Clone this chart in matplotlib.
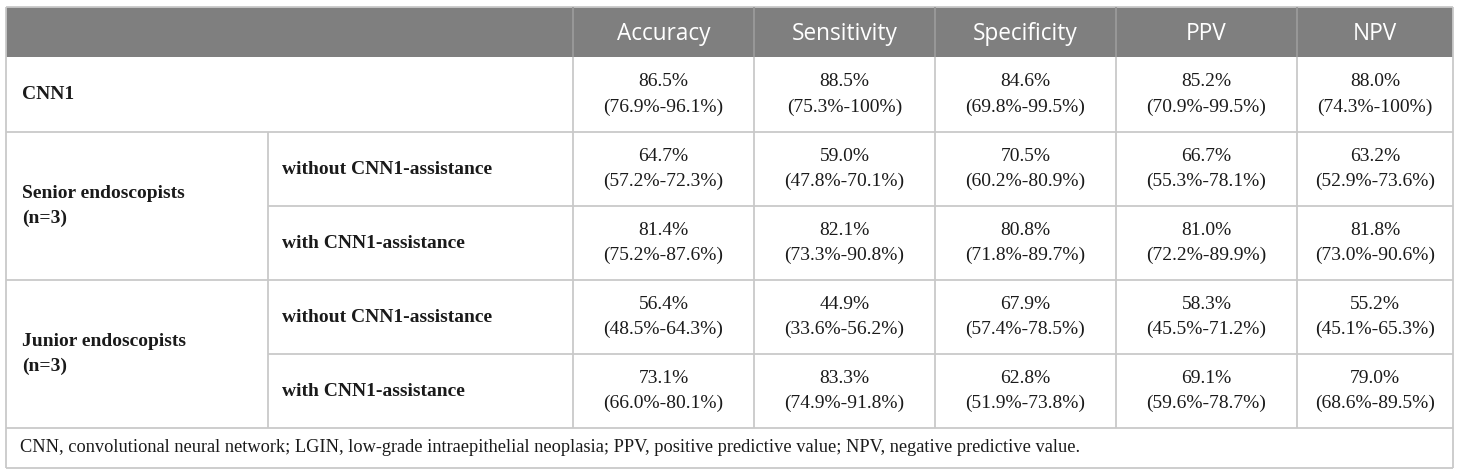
import matplotlib

matplotlib.use("Agg")
import matplotlib.pyplot as plt
from matplotlib.patches import Rectangle

# table content
metrics = ["Accuracy", "Sensitivity", "Specificity", "PPV", "NPV"]
groups = ["CNN1", "Senior endoscopists\n(n=3)", "Junior endoscopists\n(n=3)"]
conditions = ["without CNN1-assistance", "with CNN1-assistance"]

cnn1_values = ["86.5%\n(76.9%-96.1%)", "88.5%\n(75.3%-100%)", "84.6%\n(69.8%-99.5%)",
               "85.2%\n(70.9%-99.5%)", "88.0%\n(74.3%-100%)"]
senior_without = ["64.7%\n(57.2%-72.3%)", "59.0%\n(47.8%-70.1%)", "70.5%\n(60.2%-80.9%)",
                  "66.7%\n(55.3%-78.1%)", "63.2%\n(52.9%-73.6%)"]
senior_with = ["81.4%\n(75.2%-87.6%)", "82.1%\n(73.3%-90.8%)", "80.8%\n(71.8%-89.7%)",
               "81.0%\n(72.2%-89.9%)", "81.8%\n(73.0%-90.6%)"]
junior_without = ["56.4%\n(48.5%-64.3%)", "44.9%\n(33.6%-56.2%)", "67.9%\n(57.4%-78.5%)",
                  "58.3%\n(45.5%-71.2%)", "55.2%\n(45.1%-65.3%)"]
junior_with = ["73.1%\n(66.0%-80.1%)", "83.3%\n(74.9%-91.8%)", "62.8%\n(51.9%-73.8%)",
               "69.1%\n(59.6%-78.7%)", "79.0%\n(68.6%-89.5%)"]

footnote = ("CNN, convolutional neural network; LGIN, low-grade intraepithelial neoplasia; "
            "PPV, positive predictive value; NPV, negative predictive value.")

# layout in pixels
W, H = 1460, 476
left, right = 6, 1453
sub_x = 268
col_x = [573, 754, 935, 1116, 1297, 1453]
row_y = [7, 57, 132, 206, 280, 354, 428, 468]

HEADER_BG = "#7f7f7f"
GRID = "#c9c9c9"
TEXT = "#1a1a1a"
SERIF = "Liberation Serif"
SANS = "Open Sans"

fig = plt.figure(figsize=(W / 100, H / 100), dpi=100)
ax = fig.add_axes([0, 0, 1, 1])
ax.set_xlim(0, W)
ax.set_ylim(H, 0)
ax.axis("off")

# header band
ax.add_patch(Rectangle((left, row_y[0]), right - left, row_y[1] - row_y[0],
                       facecolor=HEADER_BG, edgecolor="none", zorder=1))


def hline(y, x0=left, x1=right):
    ax.plot([x0, x1], [y, y], color=GRID, lw=1.3, zorder=2, solid_capstyle="butt")


def vline(x, y0, y1, color=GRID):
    ax.plot([x, x], [y0, y1], color=color, lw=1.3, zorder=2, solid_capstyle="butt")


# outer border
hline(row_y[0])
hline(row_y[-1])
vline(left, row_y[0], row_y[-1])
vline(right, row_y[0], row_y[-1])

# row separators (the ones inside a group only span the sub-label column onwards)
for y in row_y[2:-1]:
    if y in (row_y[3], row_y[5]):
        hline(y, sub_x, right)
    else:
        hline(y)

# column separators
for x in col_x[:-1]:
    vline(x, row_y[1], row_y[-2])
    vline(x, row_y[0], row_y[1], color="#9a9a9a")
vline(sub_x, row_y[2], row_y[-2])

# header text
for i, m in enumerate(metrics):
    cx = (col_x[i] + col_x[i + 1]) / 2
    ax.text(cx, (row_y[0] + row_y[1]) / 2 + 2, m, color="white", fontsize=16.3,
            family=SANS, ha="center", va="center", zorder=3)

# left labels
ax.text(22, (row_y[1] + row_y[2]) / 2, groups[0], fontsize=14, family=SERIF,
        weight="bold", color=TEXT, ha="left", va="center")
ax.text(22, (row_y[2] + row_y[4]) / 2, groups[1], fontsize=14, family=SERIF,
        weight="bold", color=TEXT, ha="left", va="center", linespacing=1.65)
ax.text(22, (row_y[4] + row_y[6]) / 2, groups[2], fontsize=14, family=SERIF,
        weight="bold", color=TEXT, ha="left", va="center", linespacing=1.65)

for k in range(4):
    cy = (row_y[k + 2] + row_y[k + 3]) / 2
    ax.text(282, cy, conditions[k % 2], fontsize=14, family=SERIF, weight="bold",
            color=TEXT, ha="left", va="center")

# values
body_rows = [cnn1_values, senior_without, senior_with, junior_without, junior_with]
for r, vals in enumerate(body_rows):
    cy = (row_y[r + 1] + row_y[r + 2]) / 2
    for i, v in enumerate(vals):
        cx = (col_x[i] + col_x[i + 1]) / 2
        ax.text(cx, cy, v, fontsize=14, family=SERIF, color=TEXT,
                ha="center", va="center", linespacing=1.6)

# footnote
ax.text(20, (row_y[-2] + row_y[-1]) / 2, footnote, fontsize=13.2, family=SERIF,
        color=TEXT, ha="left", va="center")

fig.savefig("out.png", dpi=100)
